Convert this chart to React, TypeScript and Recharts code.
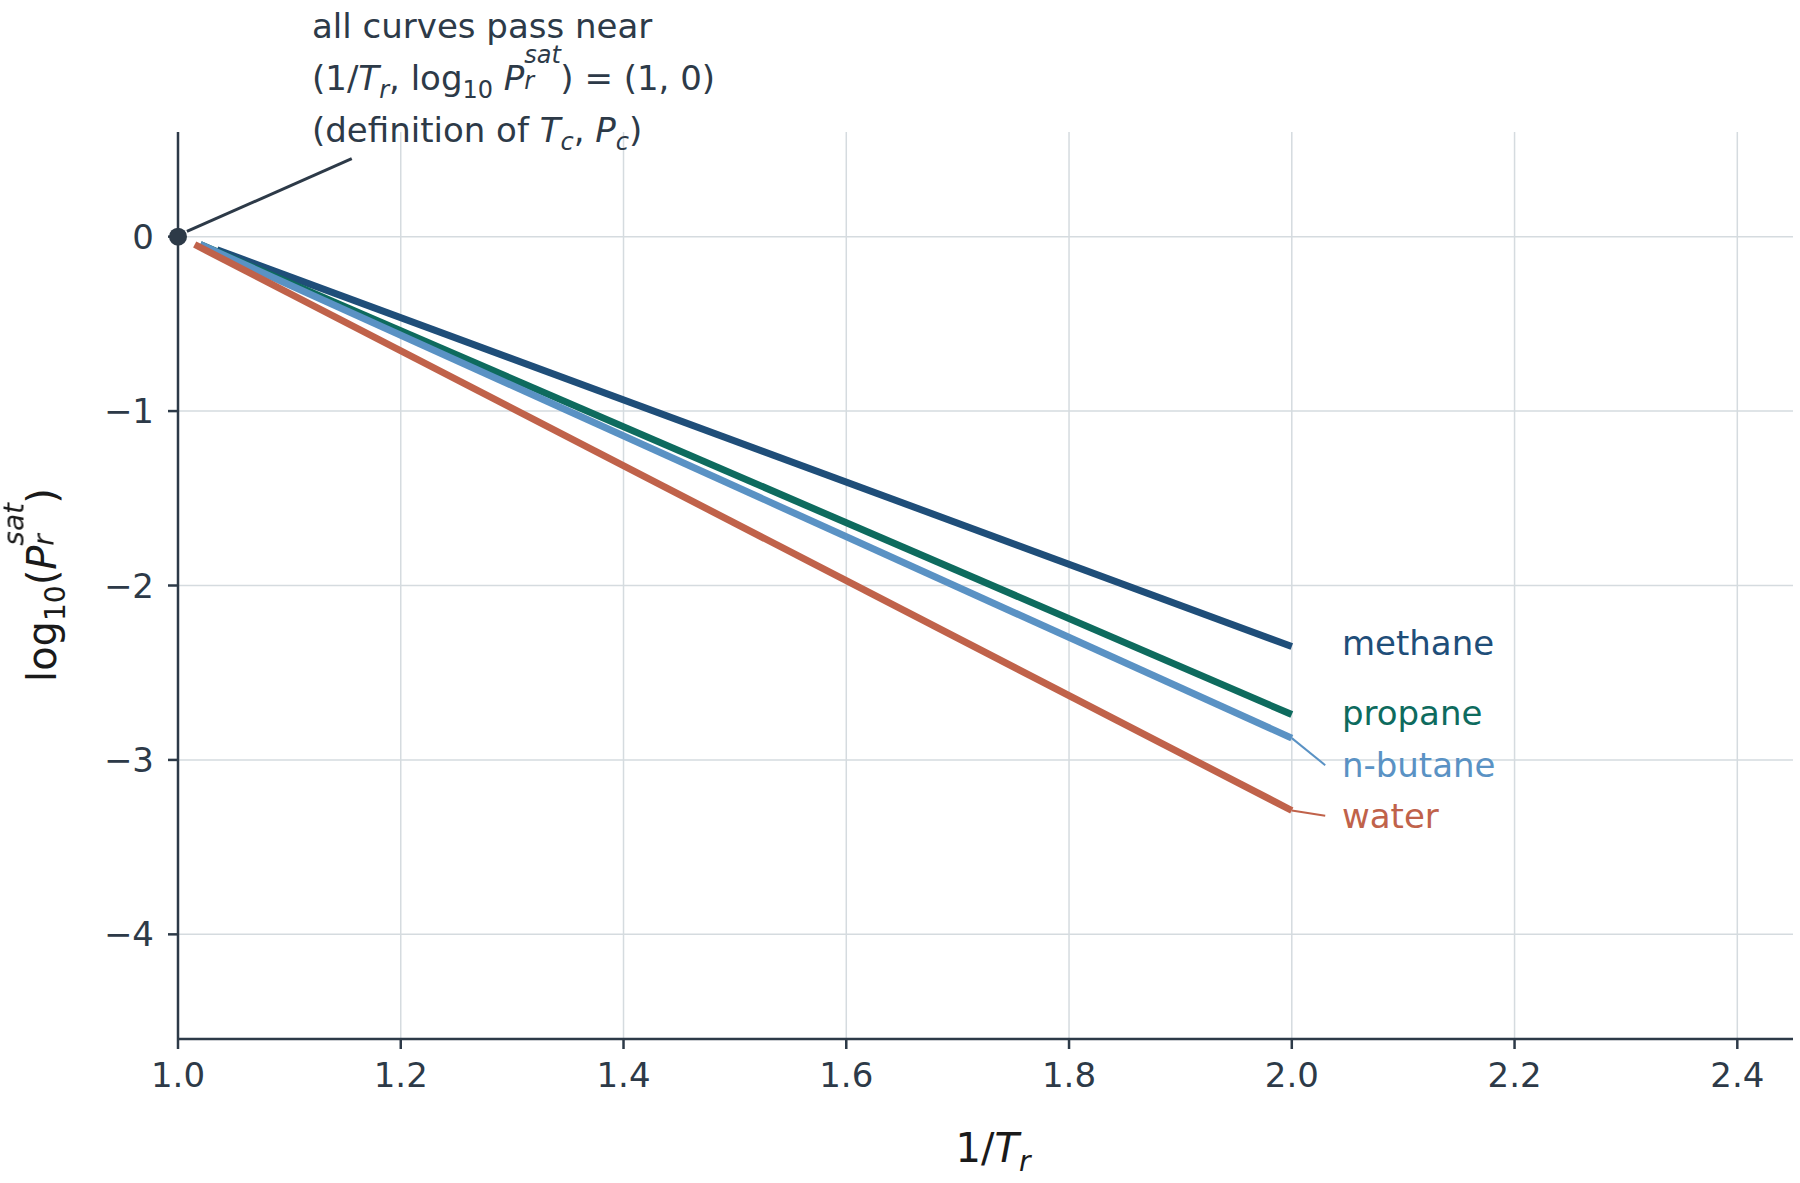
import React from "react";
import {
  LineChart,
  Line,
  XAxis,
  YAxis,
  CartesianGrid,
  ReferenceLine,
  ReferenceDot,
} from "recharts";

const xTicks = [1.0, 1.2, 1.4, 1.6, 1.8, 2.0, 2.2, 2.4];
const yTicks = [0, -1, -2, -3, -4];

const methane = [
  { x: 1.035, y: -0.075 },
  { x: 2.0, y: -2.35 },
];
const propane = [
  { x: 1.02, y: -0.045 },
  { x: 2.0, y: -2.74 },
];
const nButane = [
  { x: 1.02, y: -0.045 },
  { x: 2.0, y: -2.875 },
];
const water = [
  { x: 1.015, y: -0.045 },
  { x: 2.0, y: -3.29 },
];

const ink = "#2d3a48";
const grid = "#d5dbdf";
const font = "'DejaVu Sans', sans-serif";

const series = [
  { name: "methane", data: methane, color: "#1f4e79", labelY: -2.33 },
  { name: "propane", data: propane, color: "#0e6b5e", labelY: -2.73 },
  { name: "n-butane", data: nButane, color: "#5a92c4", labelY: -3.03 },
  { name: "water", data: water, color: "#c0624a", labelY: -3.32 },
];

// superscript "sat" stacked over subscript "r"
function SupSub({ size }: { size: number }) {
  return (
    <span style={{ position: "relative", display: "inline-block", width: size * 1.5, height: "1em" }}>
      <i style={{ position: "absolute", left: 0, top: -size * 0.55, fontSize: size, lineHeight: 1 }}>sat</i>
      <i style={{ position: "absolute", left: 0, top: size * 0.55, fontSize: size, lineHeight: 1 }}>r</i>
    </span>
  );
}

export default function App() {
  const tickStyle = { fill: ink, fontSize: 34, fontFamily: font };
  return (
    <div style={{ position: "fixed", left: 0, top: 0, width: 1800, height: 1183, background: "#fff" }}>
      <LineChart
        width={1800}
        height={1183}
        margin={{ top: 132, right: 7, bottom: 44, left: 78 }}
      >
        <CartesianGrid stroke={grid} strokeWidth={1.5} horizontalValues={yTicks} verticalValues={xTicks} />
        <XAxis
          type="number"
          dataKey="x"
          domain={[1, 2.45]}
          ticks={xTicks}
          tickFormatter={(v: number) => v.toFixed(1)}
          height={100}
          tick={tickStyle}
          tickSize={10}
          tickMargin={14}
          axisLine={{ stroke: ink, strokeWidth: 2.5 }}
          tickLine={{ stroke: ink, strokeWidth: 2.5 }}
          allowDataOverflow
        />
        <YAxis
          type="number"
          dataKey="y"
          domain={[-4.6, 0.6]}
          ticks={yTicks}
          tickFormatter={(v: number) => (v < 0 ? "\u2212" + Math.abs(v) : String(v))}
          width={100}
          tick={tickStyle}
          tickSize={10}
          tickMargin={14}
          axisLine={{ stroke: ink, strokeWidth: 2.5 }}
          tickLine={{ stroke: ink, strokeWidth: 2.5 }}
          allowDataOverflow
        />
        {series.map((s) => (
          <Line
            key={s.name}
            data={s.data}
            dataKey="y"
            type="linear"
            stroke={s.color}
            strokeWidth={7}
            dot={false}
            isAnimationActive={false}
          />
        ))}
        <ReferenceLine
          segment={[{ x: 2.0, y: -2.875 }, { x: 2.03, y: -3.03 }]}
          stroke="#5a92c4"
          strokeWidth={2}
          ifOverflow="visible"
        />
        <ReferenceLine
          segment={[{ x: 2.0, y: -3.29 }, { x: 2.03, y: -3.32 }]}
          stroke="#c0624a"
          strokeWidth={2}
          ifOverflow="visible"
        />
        <ReferenceLine
          segment={[{ x: 1.008, y: 0.03 }, { x: 1.156, y: 0.447 }]}
          stroke={ink}
          strokeWidth={3}
          ifOverflow="visible"
        />
        <ReferenceDot x={1} y={0} r={9} fill={ink} stroke="none" ifOverflow="visible" />
        {series.map((s) => (
          <ReferenceDot
            key={s.name + "-label"}
            x={2.045}
            y={s.labelY}
            r={0}
            stroke="none"
            fill="none"
            label={{
              value: s.name,
              position: "right",
              offset: 0,
              fill: s.color,
              fontSize: 34,
              fontFamily: font,
            }}
          />
        ))}
      </LineChart>
      <div
        style={{
          position: "absolute",
          left: 312,
          top: 0,
          fontFamily: font,
          fontSize: 34,
          lineHeight: "52px",
          color: ink,
          whiteSpace: "nowrap",
        }}
      >
        <div style={{ height: 52 }}>all curves pass near</div>
        <div style={{ height: 52 }}>
          (1/<i>T</i><sub style={{ fontSize: 24, lineHeight: 0 }}><i>r</i></sub>, log<sub style={{ fontSize: 24, lineHeight: 0 }}>10</sub>{" "}
          <i>P</i>
          <SupSub size={24} />) = (1, 0)
        </div>
        <div style={{ height: 52 }}>
          (definition of <i>T</i><sub style={{ fontSize: 24, lineHeight: 0 }}><i>c</i></sub>, <i>P</i><sub style={{ fontSize: 24, lineHeight: 0 }}><i>c</i></sub>)
        </div>
      </div>
      <div
        style={{
          position: "absolute",
          left: 993,
          top: 1148,
          transform: "translate(-50%, -50%)",
          fontFamily: font,
          fontSize: 40,
          color: "#1a1a1a",
          whiteSpace: "nowrap",
        }}
      >
        1/<i>T</i><sub style={{ fontSize: 28, lineHeight: 0 }}><i>r</i></sub>
      </div>
      <div
        style={{
          position: "absolute",
          left: 40,
          top: 585,
          transform: "translate(-50%, -50%) rotate(-90deg)",
          fontFamily: font,
          fontSize: 40,
          color: "#1a1a1a",
          whiteSpace: "nowrap",
        }}
      >
        log<sub style={{ fontSize: 28, lineHeight: 0 }}>10</sub>(<i>P</i>
        <SupSub size={28} />)
      </div>
    </div>
  );
}
